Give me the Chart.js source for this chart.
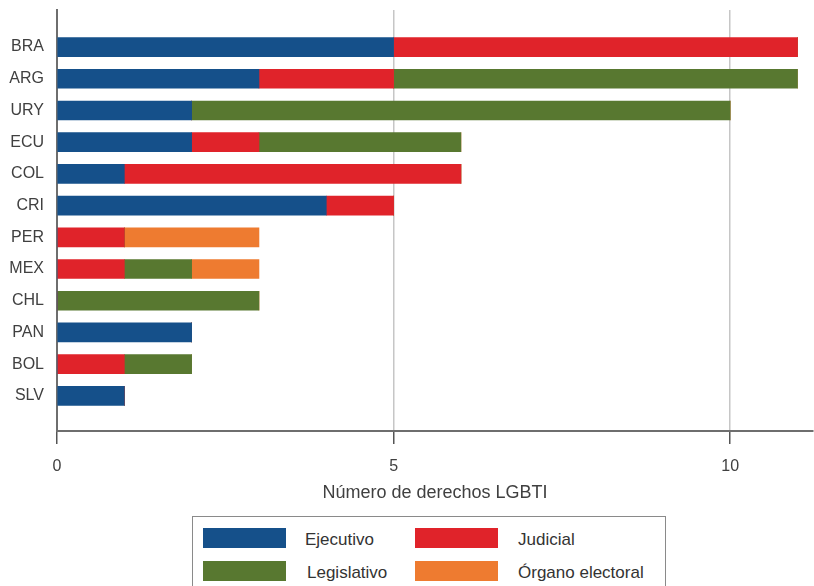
<!DOCTYPE html>
<html>
<head>
<meta charset="utf-8">
<script src="https://cdn.jsdelivr.net/npm/chart.js@4"></script>
<style>
  body { margin: 0; background: #fff; font-family: "Liberation Sans", Arial, sans-serif; }
  #wrap { position: relative; width: 814px; height: 586px; overflow: hidden; }
  #cv { position: absolute; left: 0; top: 0; }
  #legend {
    position: absolute; left: 192px; top: 516px; width: 474px; height: 80px;
    border: 1.5px solid #8a8a8a; box-sizing: border-box;
  }
  .item { position: absolute; font-size: 17px; color: #333; line-height: 20px; }
  .sw { position: absolute; width: 83px; height: 20px; }
</style>
</head>
<body>
<div id="wrap">
  <canvas id="cv" width="814" height="510"></canvas>
  <div id="legend"></div>
</div>
<script>
var paises = ['BRA', 'ARG', 'URY', 'ECU', 'COL', 'CRI', 'PER', 'MEX', 'CHL', 'PAN', 'BOL', 'SLV'];
var ejecutivo   = [5, 3, 2, 2, 1, 4, 0, 0, 0, 2, 0, 1];
var judicial    = [6, 2, 0, 1, 5, 1, 1, 1, 0, 0, 1, 0];
var legislativo = [0, 6, 8, 3, 0, 0, 0, 1, 3, 0, 1, 0];
var electoral   = [0, 0, 0, 0, 0, 0, 2, 1, 0, 0, 0, 0];
var nombres = ['Ejecutivo', 'Judicial', 'Legislativo', 'Órgano electoral'];
var colores = ['#15508a', '#e0232a', '#587830', '#ee7b30'];
var xTicks = [0, 5, 10];

function puntos(arr) {
  return arr.map(function (v, i) { return { x: v, y: i }; });
}

var series = [ejecutivo, judicial, legislativo, electoral];
var datasets = series.map(function (s, k) {
  return {
    label: nombres[k],
    data: puntos(s),
    backgroundColor: colores[k],
    borderWidth: 0,
    barThickness: 19
  };
});

var ctx = document.getElementById('cv').getContext('2d');
var chart = new Chart(ctx, {
  type: 'bar',
  data: { datasets: datasets },
  options: {
    indexAxis: 'y',
    responsive: false,
    animation: false,
    layout: { padding: { top: 10, right: 1, left: 0, bottom: 0 } },
    plugins: { legend: { display: false }, tooltip: { enabled: false } },
    scales: {
      x: {
        type: 'linear',
        stacked: true,
        min: 0,
        max: 11.23,
        afterFit: function (s) { s.height = 79; s.paddingLeft = 0; s.paddingRight = 0; },
        afterBuildTicks: function (s) {
          s.ticks = xTicks.map(function (v) { return { value: v }; });
        },
        border: { display: true, color: '#6e6e6e', width: 2 },
        grid: {
          color: function (c) { return c.tick && c.tick.value === 0 ? 'rgba(0,0,0,0)' : '#c6c6c6'; },
          lineWidth: 1.5,
          tickColor: '#555',
          tickLength: 13
        },
        ticks: {
          padding: 13,
          color: '#404040',
          font: { family: 'Liberation Sans', size: 16 }
        },
        title: {
          display: true,
          text: 'Número de derechos LGBTI',
          color: '#404040',
          font: { family: 'Liberation Sans', size: 18 },
          padding: { top: 4, bottom: 6 }
        }
      },
      y: {
        type: 'linear',
        stacked: true,
        reverse: true,
        offset: false,
        bounds: 'data',
        min: -1.17,
        max: 12.11,
        afterFit: function (s) { s.width = 57; s.paddingTop = 0; s.paddingBottom = 0; },
        afterBuildTicks: function (s) {
          s.ticks = paises.map(function (p, i) { return { value: i }; });
        },
        border: { display: true, color: '#6e6e6e', width: 2 },
        grid: { display: false, drawTicks: false, offset: false },
        ticks: {
          padding: 13,
          color: '#404040',
          font: { family: 'Liberation Sans', size: 16 },
          callback: function (v) { return paises[v]; }
        }
      }
    }
  }
});

// leyenda en caja, 2 columnas
var leg = document.getElementById('legend');
var pos = [[10, 11, 112], [222, 11, 325], [10, 44, 114], [222, 44, 325]];
nombres.forEach(function (n, k) {
  var sw = document.createElement('div');
  sw.className = 'sw';
  sw.style.left = pos[k][0] + 'px';
  sw.style.top = pos[k][1] + 'px';
  sw.style.background = colores[k];
  leg.appendChild(sw);
  var t = document.createElement('div');
  t.className = 'item';
  t.style.left = pos[k][2] + 'px';
  t.style.top = (pos[k][1] + 2) + 'px';
  t.textContent = n;
  leg.appendChild(t);
});
</script>
</body>
</html>
